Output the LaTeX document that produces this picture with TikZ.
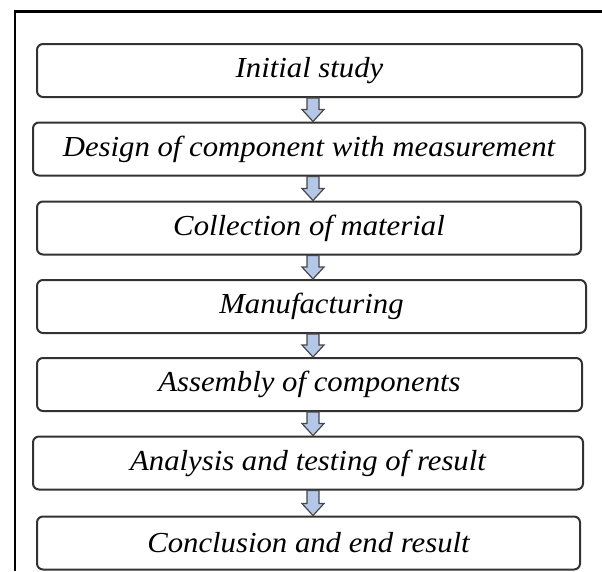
\documentclass[tikz,border=0pt]{standalone}
\usepackage{fontspec}
\setmainfont{Liberation Serif}[FakeStretch=1.06]
\usetikzlibrary{calc}
\definecolor{arrowblue}{RGB}{180,199,231}
\definecolor{boxline}{RGB}{50,50,50}

\begin{document}
\begin{tikzpicture}[x=1pt,y=-1pt]
            \tikzstyle{stepbox}=[draw=boxline, line width=2pt, rounded corners=6pt, minimum height=53pt, inner sep=0pt, font=\fontsize{29}{33}\selectfont\itshape]
            \tikzstyle{flowarrow}=[fill=arrowblue, draw=boxline!90, line width=1.2pt, line join=miter]
            \useasboundingbox (0,0) rectangle (602,571);
            % frame, open at right and bottom
            \draw [black, line width=2.2pt] (602,11.5) -- (15,11.5) -- (15,571);
            % steps
            \node [stepbox, minimum width=545pt] (study) at (309.5,70.5) {Initial study};
            \node [stepbox, minimum width=552pt] (design) at (309,149) {Design of component with measurement};
            \node [stepbox, minimum width=544pt] (material) at (309,228) {Collection of material};
            \node [stepbox, minimum width=549pt] (manufacture) at (311.5,306.5) {Manufacturing};
            \node [stepbox, minimum width=545pt] (assembly) at (309.5,384.5) {Assembly of components};
            \node [stepbox, minimum width=550pt] (analysis) at (308,463) {Analysis and testing of result};
            \node [stepbox, minimum width=543pt] (conclusion) at (308.5,543) {Conclusion and end result};
            % block arrows between the steps
            \foreach \a/\b in {study/design, design/material, material/manufacture, manufacture/assembly, assembly/analysis, analysis/conclusion}
            {
              \filldraw [flowarrow] let \p1=(\a.south), \p2=(\b.north) in
                (313-6,\y1) -- (313+6,\y1) -- (313+6,\y2+12) -- (313+11,\y2+12) -- (313,\y2)
                -- (313-11,\y2+12) -- (313-6,\y2+12) -- cycle;
            }
\end{tikzpicture}
\end{document}
